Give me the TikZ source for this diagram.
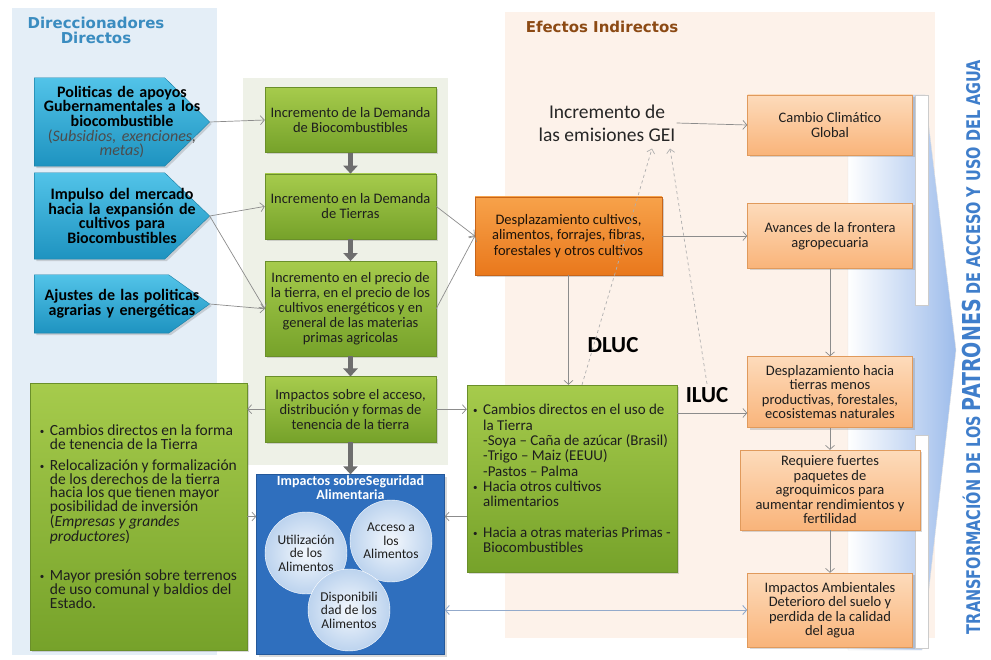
\documentclass[tikz,border=0pt]{standalone}
\usepackage{fontspec}
\setmainfont{Carlito}
\newfontfamily\headfont{DejaVu Sans}
\usetikzlibrary{positioning, arrows.meta, shadows, backgrounds}

\definecolor{lpanel}{HTML}{E4EEF7}
\definecolor{cpanel}{HTML}{EEF1E7}
\definecolor{ppanel}{HTML}{FDF2EA}
\definecolor{drvTop}{HTML}{52C3E8}
\definecolor{drvBot}{HTML}{1E93C0}
\definecolor{drvEdge}{HTML}{1A7FA5}
\definecolor{grnTop}{HTML}{A6CB4C}
\definecolor{grnBot}{HTML}{76A22A}
\definecolor{grnEdge}{HTML}{6A8F2A}
\definecolor{orgTop}{HTML}{F7A24A}
\definecolor{orgBot}{HTML}{E9781C}
\definecolor{orgEdge}{HTML}{C7651A}
\definecolor{pchTop}{HTML}{FDDBBB}
\definecolor{pchBot}{HTML}{F9B47A}
\definecolor{pchEdge}{HTML}{E09A5C}
\definecolor{segBlue}{HTML}{2F6FBE}
\definecolor{segEdge}{HTML}{24589A}
\definecolor{circIn}{HTML}{F4F8FD}
\definecolor{circOut}{HTML}{BCD3EE}
\definecolor{txt}{HTML}{1E1E1E}
\definecolor{titleBlue}{HTML}{3A8CC0}
\definecolor{titleBrown}{HTML}{8C4A14}
\definecolor{axisBlue}{HTML}{3F7ECB}
\definecolor{bigBlue}{HTML}{9DBCEB}
\definecolor{lineGray}{HTML}{8C8C8C}
\definecolor{lineBlue}{HTML}{93AACB}
\definecolor{bigGray}{HTML}{6E6E6E}

% 列表项
\newcommand{\bul}{\makebox[10pt][l]{\raisebox{1pt}{\fontsize{9}{9}\selectfont\textbullet}}}
\newcommand{\ind}{\hspace*{10pt}}

\begin{document}
\begin{tikzpicture}[
    x=1pt, y=-1pt,
    every node/.style={align=center, text=txt},
    driver/.style={minimum width=175pt, inner sep=0pt, text width=165pt, text=black, font=\bfseries\fontsize{16}{14.7}\selectfont},
    drvfill/.style={top color=drvTop, bottom color=drvBot, draw=drvEdge, line width=0.4pt, drop shadow={shadow xshift=2pt, shadow yshift=-2pt, opacity=0.3}},
    stage/.style={draw=grnEdge, top color=grnTop, bottom color=grnBot, minimum width=171pt, minimum height=65pt, inner sep=0pt, font=\fontsize{14.5}{15}\selectfont, drop shadow={shadow xshift=2pt, shadow yshift=-2pt, opacity=0.3}},
    listbox/.style={stage, align=left},
    effect/.style={draw=pchEdge, top color=pchTop, bottom color=pchBot, minimum width=165pt, inner sep=0pt, font=\fontsize{14.5}{14.5}\selectfont, drop shadow={shadow xshift=2pt, shadow yshift=-2pt, opacity=0.3}},
    pillar/.style={circle, minimum size=82pt, inner sep=0pt, draw=white, inner color=circIn, outer color=circOut, font=\fontsize{13.5}{13.5}\selectfont},
    tag/.style={font=\bfseries\fontsize{23}{23}\selectfont, text=black},
    conn/.style={-{Straight Barb[length=4pt,width=9pt]}, draw=lineGray, line width=0.7pt},
    twoway/.style={{Straight Barb[length=4pt,width=9pt]}-{Straight Barb[length=4pt,width=9pt]}, draw=lineBlue, line width=0.9pt},
    flow/.style={-{Triangle[length=8pt,width=14pt]}, draw=bigGray, line width=5pt},
    luc/.style={-{Straight Barb[length=4pt,width=8pt]}, draw=lineGray!70, dashed, line width=0.7pt}
]
\useasboundingbox (0,0) rectangle (991,660);

% 直接驱动因素
\node[font=\headfont\bfseries\fontsize{15}{15}\selectfont, text=titleBlue] (drvtitle) at (96,30) {Direccionadores\\Directos};
\node[driver, minimum height=88pt] (pol) at (122,122) {Politicas de apoyos\\Gubernamentales a los\\biocombustible\\{\mdseries\color{black!70}(\textit{Subsidios, exenciones,}\\\textit{metas})}};
\node[driver, minimum height=86pt] (mkt) at (122,216) {Impulso del mercado\\hacia la expansión de\\cultivos para\\Biocombustibles};
\node[driver, minimum height=58pt] (adj) at (122,304) {Ajustes de las politicas\\agrarias y energéticas};

% 中间流程
\node[stage] (G1) at (350.5,120) {Incremento de la Demanda\\de Biocombustibles};
\node[stage, below=21pt of G1] (G2) {Incremento en la Demanda\\de Tierras};
\node[stage, minimum height=95pt, below=22pt of G2] (G3) {Incremento en el precio de\\la tierra, en el precio de los\\cultivos energéticos y en\\general de las materias\\primas agricolas};
\node[stage, below=20pt of G3] (G4) {Impactos sobre el acceso,\\distribución y formas de\\tenencia de la tierra};
\node[draw=segEdge, fill=segBlue, minimum width=188pt, minimum height=180pt, below=32.5pt of G4, drop shadow={shadow xshift=2pt, shadow yshift=-2pt, opacity=0.3}] (seg) {};
\node[below=1pt of seg.north, text=white, font=\bfseries\fontsize{14}{14.5}\selectfont, inner sep=0pt] (segtitle) {Impactos sobreSeguridad\\Alimentaria};
\node[pillar] (uso) at (306,553) {Utilización\\de los\\Alimentos};
\node[pillar] (acc) at (391,541) {Acceso a\\los\\Alimentos};
\node[pillar] (disp) at (349,610) {Disponibili\\dad de los\\Alimentos};

\node[listbox, minimum width=217pt, minimum height=267pt, font=\fontsize{15.5}{13.6}\selectfont] (tenure) at (138.5,516.5) {%
\bul Cambios directos en la forma\\ \ind de tenencia de la Tierra\\[8pt]
\bul Relocalización y formalización\\ \ind de los derechos de la tierra\\ \ind hacia los que tienen mayor\\ \ind posibilidad  de inversión\\ \ind (\textit{Empresas y grandes}\\ \ind \textit{productores})\\[26pt]
\bul Mayor presión sobre  terrenos\\ \ind de uso comunal y baldios del\\ \ind Estado.};

% 间接效应
\node[font=\headfont\bfseries\fontsize{15}{15}\selectfont, text=titleBrown] (efftitle) at (602,27) {Efectos Indirectos};
\node[font=\fontsize{19.5}{23}\selectfont, text=black!85, inner sep=1pt] (gei) at (607,123) {Incremento de\\las emisiones GEI};
\node[draw=orgEdge, top color=orgTop, bottom color=orgBot, minimum width=187pt, minimum height=78pt, inner sep=0pt, font=\fontsize{14.5}{15.5}\selectfont, text=black!85!brown, drop shadow={shadow xshift=2pt, shadow yshift=-2pt, opacity=0.35}] (crops) at (568.5,236) {Desplazamiento cultivos,\\alimentos, forrajes, fibras,\\forestales y otros cultivos};
\node[listbox, minimum width=210pt, minimum height=187pt, font=\fontsize{15}{15.3}\selectfont] (cambios) at (572,478.5) {%
\bul Cambios directos  en el uso de\\ \ind la Tierra\\ \ind -Soya -- Caña de azúcar (Brasil)\\ \ind -Trigo -- Maiz (EEUU)\\ \ind -Pastos -- Palma\\
\bul  Hacia otros cultivos\\ \ind alimentarios\\[15pt]
\bul Hacia a otras materias Primas -\\ \ind Biocombustibles};
\node[tag] (dlabel) at (613,345) {DLUC};
\node[tag] (ilabel) at (707,395) {ILUC};

\node[effect, minimum height=60pt] (R1) at (830,125) {Cambio Climático\\Global};
\node[effect, minimum height=65pt] (R2) at (830,236) {Avances de la  frontera\\agropecuaria};
\node[effect, minimum height=71pt] (R3) at (830,392) {Desplazamiento hacia\\tierras menos\\productivas, forestales,\\ecosistemas naturales};
\node[effect, minimum height=80pt, minimum width=180pt] (R4) at (830,490) {Requiere fuertes\\paquetes de\\agroquimicos para\\aumentar rendimientos y\\fertilidad};
\node[effect, minimum height=74pt] (R5) at (830,610) {Impactos Ambientales\\Deterioro del suelo y\\perdida de la calidad\\del agua};

\node[rotate=90, text=axisBlue, font=\headfont\bfseries\fontsize{14.5}{14.5}\selectfont] (axis) at (971,347) {\scalebox{1}[1.3]{TRANSFORMACIÓN DE LOS {\fontsize{19}{19}\selectfont PATRONES} DE ACCESO Y USO DEL AGUA}};

% 背景
\begin{pgfonlayer}{background}
\fill[lpanel] (12,8) rectangle (217,655);
\fill[cpanel] (243,78) rectangle (448,465);
\fill[ppanel] (505,12) rectangle (935,638);
\shade[left color=white, right color=bigBlue, draw=black!12] (848,95) -- (925,95) -- (956,350) -- (922,650) -- (848,650) -- cycle;
\filldraw[fill=white, draw=black!20] (915,95) rectangle (928,305);
\filldraw[fill=white, draw=black!20] (915,435) rectangle (928,648);
\foreach \n/\d in {pol/45, mkt/45, adj/41}
  \draw[drvfill] (\n.north west) -- ([xshift=-\d pt]\n.north east) -- (\n.east) -- ([xshift=-\d pt]\n.south east) -- (\n.south west) -- cycle;
\end{pgfonlayer}

% 连接线
\draw[conn] (pol.east) -- (G1.west);
\draw[conn] (mkt.east) -- (G2.west);
\draw[conn] (mkt.east) -- (G3.west);
\draw[conn] (adj.east) -- (G3.west);

\draw[flow] (G1) -- (G2);
\draw[flow] (G2) -- (G3);
\draw[flow] (G3) -- (G4);
\draw[flow] (G4) -- (seg);

\draw[conn] (G2.east) -- (crops.west);
\draw[conn] (G3.east) -- (crops.west);
\draw[conn] (G4.west) -- (G4.west -| tenure.east);
\draw[conn] (G4.east) -- (G4.east -| cambios.west);
\draw[conn] (tenure.east) -- (tenure.east -| seg.west);
\draw[conn] (cambios.west |- tenure.east) -- (tenure.east -| seg.east);
\draw[twoway] (seg.east |- R5.west) -- (R5.west);

\draw[conn] (gei.east) -- (R1.west);
\draw[conn] (crops.east) -- (R2.west);
\draw[conn] (crops.south) -- (crops.south |- cambios.north);
\draw[conn] ([yshift=-21pt]R3.west -| cambios.east) -- ([yshift=-21pt]R3.west);
\draw[conn] (R2) -- (R3);
\draw[conn] (R3) -- (R4);
\draw[conn] (R4) -- (R5);

\draw[luc] ([xshift=10pt]cambios.north) -- ([xshift=45pt,yshift=-6pt]gei.south);
\draw[luc] (ilabel.north) -- ([xshift=63pt,yshift=-6pt]gei.south);

\end{tikzpicture}
\end{document}
